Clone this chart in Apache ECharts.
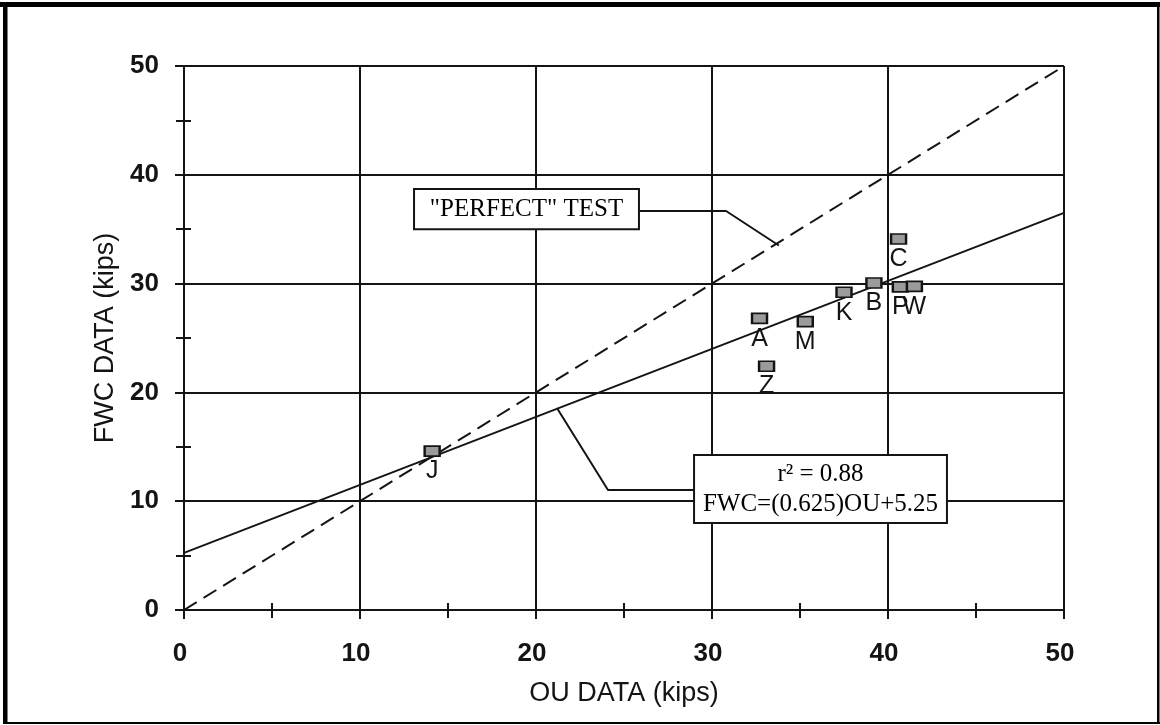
<!DOCTYPE html>
<html>
<head>
<meta charset="utf-8">
<script src="https://cdn.jsdelivr.net/npm/echarts@6/dist/echarts.min.js"></script>
<style>
  html, body { margin: 0; padding: 0; background: #ffffff; }
  #chart { width: 1160px; height: 725px; }
</style>
</head>
<body>
<div id="chart"></div>
<script>
// Specimen results: OU vs FWC capacity (kips)
const specimenNames = ['A', 'M', 'Z', 'K', 'B', 'C', 'P', 'W', 'J'];
const ouKips  = [32.7, 35.3, 33.1, 37.5, 39.2, 40.6, 40.7, 41.5, 14.1];
const fwcKips = [26.8, 26.5, 22.4, 29.2, 30.05, 34.1, 29.7, 29.75, 14.6];

// Axis range and tick step (both axes)
const axisMin = 0, axisMax = 50, axisStep = 10;

// Least-squares fit stated on the chart
const fitSlope = 0.625, fitIntercept = 5.25, fitR2 = 0.88;

// 1:1 reference line ends
const perfectEnds = [0, 50];

// Callout boxes [x0, yTop, x1, yBottom] in data units, and their leaders
const perfectBox = [13.07, 38.7, 25.85, 35.0];
const perfectLeader = [[25.85, 36.67], [30.8, 36.67], [33.8, 33.5]];
const fitBox = [28.98, 14.25, 43.35, 8.0];
const fitLeader = [[28.98, 11.03], [24.09, 11.03], [21.19, 18.57]];

const INK = '#141414';
const SANS = '"Liberation Sans", Arial, sans-serif';
const SERIF = '"Liberation Serif", "Times New Roman", serif';

const perfectText = ['"PERFECT" TEST'];
const fitText = ['r\u00B2 = ' + fitR2.toFixed(2), 'FWC=(' + fitSlope + ')OU+' + fitIntercept];
const noteTexts = [perfectText, fitText];

const points = specimenNames.map((n, i) => [ouKips[i], fwcKips[i], n]);
const fitLine = perfectEnds.map(x => [x, fitSlope * x + fitIntercept]);
const perfectLine = perfectEnds.map(x => [x, x]);

const tickStyle = { color: INK, width: 2 };

function mainAxis(extra) {
  return Object.assign({
    type: 'value',
    min: axisMin, max: axisMax, interval: axisStep,
    axisLine: { show: true, onZero: false, lineStyle: tickStyle },
    axisTick: { show: true, length: 9, lineStyle: tickStyle },
    minorTick: { show: true, splitNumber: 2, length: 8, lineStyle: tickStyle },
    splitLine: { show: true, lineStyle: { color: INK, width: 2 } },
    nameLocation: 'middle',
    nameTextStyle: { fontFamily: SANS, fontSize: 27, color: INK }
  }, extra);
}

// Companion axis that only carries the inward half of the crossing ticks
function innerAxis(extra) {
  return Object.assign({
    type: 'value',
    min: axisMin, max: axisMax, interval: axisStep,
    axisLine: { show: false },
    axisTick: { show: true, inside: true, length: 6, lineStyle: tickStyle },
    minorTick: { show: true, splitNumber: 2, length: 7, lineStyle: tickStyle },
    splitLine: { show: false },
    axisLabel: { show: false }
  }, extra);
}

const chart = echarts.init(document.getElementById('chart'), null, { renderer: 'canvas' });

chart.setOption({
  backgroundColor: '#ffffff',
  animation: false,
  grid: { left: 184, right: 96, top: 66, bottom: 115, containLabel: false, outerBoundsMode: 'none' },
  xAxis: [
    mainAxis({
      position: 'bottom',
      name: 'OU DATA (kips)',
      nameGap: 70,
      axisLabel: { margin: 31, fontFamily: SANS, fontSize: 26, fontWeight: 'bold', color: INK, padding: [0, 8, 0, 0] }
    }),
    innerAxis({ position: 'bottom' })
  ],
  yAxis: [
    mainAxis({
      position: 'left',
      name: 'FWC DATA (kips)',
      nameGap: 64,
      axisLabel: { margin: 25, fontFamily: SANS, fontSize: 26, fontWeight: 'bold', color: INK }
    }),
    innerAxis({ position: 'left' })
  ],
  graphic: [
    { type: 'rect', silent: true, z: 100, shape: { x: 0, y: 2, width: 1160, height: 5 }, style: { fill: '#000' } },
    { type: 'rect', silent: true, z: 100, shape: { x: 3, y: 2, width: 4.5, height: 722 }, style: { fill: '#000' } },
    { type: 'rect', silent: true, z: 100, shape: { x: 1157, y: 2, width: 2.5, height: 722 }, style: { fill: '#000' } },
    { type: 'rect', silent: true, z: 100, shape: { x: 3, y: 722, width: 1157, height: 2 }, style: { fill: '#000' } }
  ],
  series: [
    {
      name: 'Perfect test',
      type: 'line',
      data: perfectLine,
      symbol: 'none',
      lineStyle: { color: INK, width: 2, type: [15, 8] },
      z: 3
    },
    {
      name: 'Fit',
      type: 'line',
      data: fitLine,
      symbol: 'none',
      lineStyle: { color: INK, width: 2 },
      z: 3
    },
    {
      name: 'Perfect leader',
      type: 'line',
      data: perfectLeader,
      symbol: 'none',
      lineStyle: { color: INK, width: 2 },
      z: 3
    },
    {
      name: 'Fit leader',
      type: 'line',
      data: fitLeader,
      symbol: 'none',
      lineStyle: { color: INK, width: 2 },
      z: 3
    },
    {
      name: 'Notes',
      type: 'custom',
      data: [perfectBox.concat([0]), fitBox.concat([1])],
      encode: { x: [0, 2], y: [1, 3] },
      clip: false,
      z: 4,
      renderItem: function (params, api) {
        const p0 = api.coord([api.value(0), api.value(1)]);
        const p1 = api.coord([api.value(2), api.value(3)]);
        const lines = noteTexts[api.value(4)];
        const cx = (p0[0] + p1[0]) / 2;
        const cy = (p0[1] + p1[1]) / 2;
        const lh = 30;
        const children = [{
          type: 'rect',
          shape: { x: p0[0], y: p0[1], width: p1[0] - p0[0], height: p1[1] - p0[1] },
          style: { fill: '#ffffff', stroke: INK, lineWidth: 2 }
        }];
        lines.forEach(function (t, k) {
          children.push({
            type: 'text',
            style: {
              text: t,
              x: cx,
              y: cy + (k - (lines.length - 1) / 2) * lh,
              align: 'center',
              verticalAlign: 'middle',
              fontFamily: SERIF,
              fontSize: 25,
              fill: '#000'
            }
          });
        });
        return { type: 'group', children: children };
      }
    },
    {
      name: 'Specimens',
      type: 'scatter',
      data: points,
      symbol: 'rect',
      symbolSize: [15, 10],
      itemStyle: {
        color: '#9b9b9b',
        borderColor: INK,
        borderWidth: 2,
        opacity: 1
      },
      label: {
        show: true,
        position: 'bottom',
        distance: 2,
        formatter: function (p) { return p.value[2]; },
        fontFamily: SANS,
        fontSize: 25,
        color: INK
      },
      z: 5
    }
  ]
});
</script>
</body>
</html>
